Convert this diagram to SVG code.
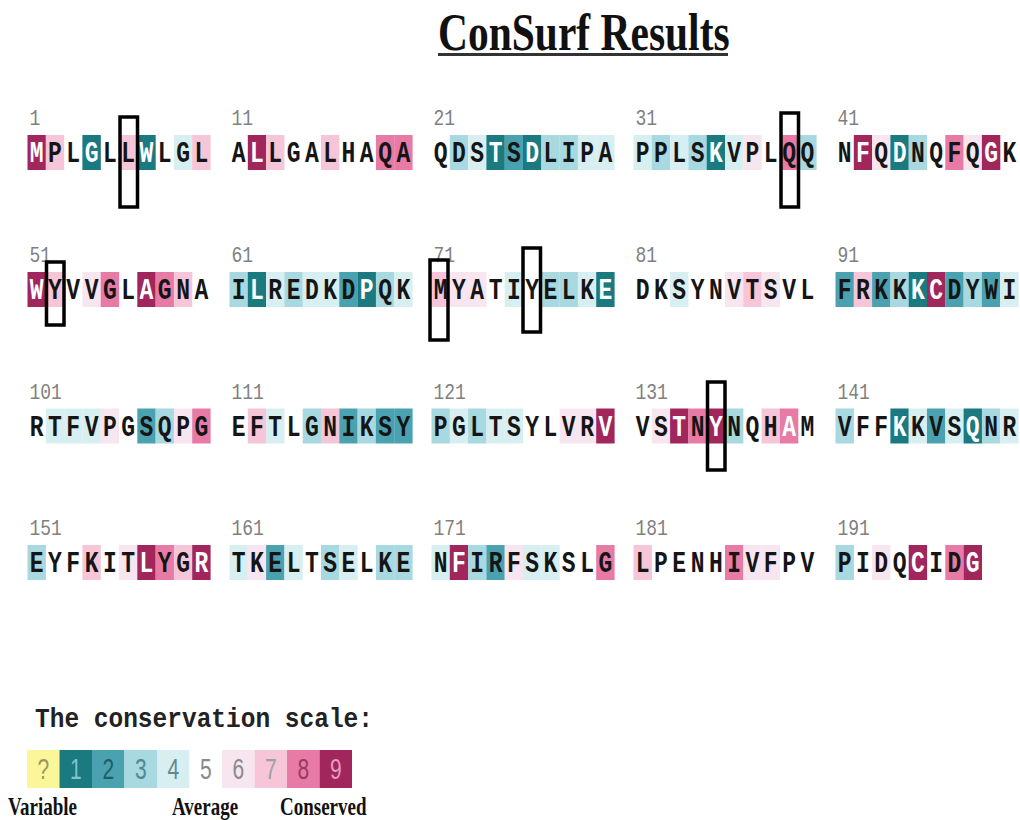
<svg xmlns="http://www.w3.org/2000/svg" width="1020" height="820" viewBox="0 0 1020 820">
<style>
.g1{fill:#1a7a80}.g2{fill:#4aa2b0}.g3{fill:#a8d8e0}.g4{fill:#d8eff2}.g6{fill:#f7e6f0}.g7{fill:#f6c5d8}.g8{fill:#e77ba6}.g9{fill:#a1265c}
.res{font-family:"Liberation Mono",monospace;font-weight:bold;font-size:23px;fill:#151515;text-anchor:middle}
.w{fill:#ffffff}
.num{font-family:"Liberation Mono",monospace;font-size:18px;fill:#808080}
.frame{fill:none;stroke:#000;stroke-width:3.5}
.title{font-family:"Liberation Serif",serif;font-weight:bold;font-size:41.5px;fill:#111}
.lt{font-family:"Liberation Mono",monospace;font-weight:bold;font-size:24.5px;fill:#222}
.dg{font-family:"Liberation Sans",sans-serif;font-size:21px;text-anchor:middle}
.lab{font-family:"Liberation Serif",serif;font-weight:bold;font-size:19px;fill:#111}
</style>
<defs>
<rect id="c" width="18.4" height="35"/>
</defs>
<rect width="1020" height="820" fill="#fff"/>
<g id="title">
<text class="title" transform="translate(438,50) scale(1,1.26)">ConSurf Results</text>
<rect x="438" y="53" width="290" height="3" fill="#333"/>
</g>

<!-- Row 1 -->
<g id="block-1" transform="translate(27.5,135)">
<use href="#c" x="0" class="g9"/><use href="#c" x="18.3" class="g7"/><use href="#c" x="54.9" class="g1"/><use href="#c" x="91.5" class="g7"/><use href="#c" x="109.8" class="g1"/><use href="#c" x="146.4" class="g4"/><use href="#c" x="164.7" class="g7"/>
<text class="num" transform="translate(2,-10) scale(1,1.2)">1</text>
<text class="res" transform="translate(0,27) scale(1,1.25)" x="9.15 27.45 45.75 64.05 82.35 100.65 118.95 137.25 155.55 173.85"><tspan class="w">M</tspan>PL<tspan class="w">G</tspan>LL<tspan class="w">W</tspan>LGL</text>
</g>
<g id="block-11" transform="translate(229.5,135)">
<use href="#c" x="18.3" class="g9"/><use href="#c" x="36.6" class="g7"/><use href="#c" x="91.5" class="g7"/><use href="#c" x="146.4" class="g8"/><use href="#c" x="164.7" class="g8"/>
<text class="num" transform="translate(2,-10) scale(1,1.2)">11</text>
<text class="res" transform="translate(0,27) scale(1,1.25)" x="9.15 27.45 45.75 64.05 82.35 100.65 118.95 137.25 155.55 173.85">A<tspan class="w">L</tspan>LGALHAQA</text>
</g>
<g id="block-21" transform="translate(431.5,135)">
<use href="#c" x="18.3" class="g3"/><use href="#c" x="36.6" class="g4"/><use href="#c" x="54.9" class="g1"/><use href="#c" x="73.2" class="g2"/><use href="#c" x="91.5" class="g1"/><use href="#c" x="109.8" class="g3"/><use href="#c" x="128.1" class="g3"/><use href="#c" x="146.4" class="g4"/><use href="#c" x="164.7" class="g4"/>
<text class="num" transform="translate(2,-10) scale(1,1.2)">21</text>
<text class="res" transform="translate(0,27) scale(1,1.25)" x="9.15 27.45 45.75 64.05 82.35 100.65 118.95 137.25 155.55 173.85">QDS<tspan class="w">T</tspan>S<tspan class="w">D</tspan>LIPA</text>
</g>
<g id="block-31" transform="translate(633.5,135)">
<use href="#c" x="0" class="g4"/><use href="#c" x="18.3" class="g3"/><use href="#c" x="36.6" class="g4"/><use href="#c" x="54.9" class="g3"/><use href="#c" x="73.2" class="g1"/><use href="#c" x="91.5" class="g4"/><use href="#c" x="109.8" class="g6"/><use href="#c" x="146.4" class="g8"/><use href="#c" x="164.7" class="g3"/>
<text class="num" transform="translate(2,-10) scale(1,1.2)">31</text>
<text class="res" transform="translate(0,27) scale(1,1.25)" x="9.15 27.45 45.75 64.05 82.35 100.65 118.95 137.25 155.55 173.85">PPLS<tspan class="w">K</tspan>VPLQQ</text>
</g>
<g id="block-41" transform="translate(835.5,135)">
<use href="#c" x="18.3" class="g9"/><use href="#c" x="36.6" class="g6"/><use href="#c" x="54.9" class="g1"/><use href="#c" x="73.2" class="g3"/><use href="#c" x="109.8" class="g8"/><use href="#c" x="128.1" class="g6"/><use href="#c" x="146.4" class="g9"/>
<text class="num" transform="translate(2,-10) scale(1,1.2)">41</text>
<text class="res" transform="translate(0,27) scale(1,1.25)" x="9.15 27.45 45.75 64.05 82.35 100.65 118.95 137.25 155.55 173.85">N<tspan class="w">F</tspan>Q<tspan class="w">D</tspan>NQFQ<tspan class="w">G</tspan>K</text>
</g>

<!-- Row 2 -->
<g id="block-51" transform="translate(27.5,272)">
<use href="#c" x="0" class="g9"/><use href="#c" x="18.3" class="g7"/><use href="#c" x="54.9" class="g6"/><use href="#c" x="73.2" class="g8"/><use href="#c" x="109.8" class="g9"/><use href="#c" x="128.1" class="g8"/><use href="#c" x="146.4" class="g7"/>
<text class="num" transform="translate(2,-10) scale(1,1.2)">51</text>
<text class="res" transform="translate(0,27) scale(1,1.25)" x="9.15 27.45 45.75 64.05 82.35 100.65 118.95 137.25 155.55 173.85"><tspan class="w">W</tspan>YVVGL<tspan class="w">A</tspan>GNA</text>
</g>
<g id="block-61" transform="translate(229.5,272)">
<use href="#c" x="0" class="g3"/><use href="#c" x="18.3" class="g1"/><use href="#c" x="36.6" class="g4"/><use href="#c" x="54.9" class="g3"/><use href="#c" x="73.2" class="g4"/><use href="#c" x="91.5" class="g4"/><use href="#c" x="109.8" class="g2"/><use href="#c" x="128.1" class="g1"/><use href="#c" x="146.4" class="g3"/><use href="#c" x="164.7" class="g4"/>
<text class="num" transform="translate(2,-10) scale(1,1.2)">61</text>
<text class="res" transform="translate(0,27) scale(1,1.25)" x="9.15 27.45 45.75 64.05 82.35 100.65 118.95 137.25 155.55 173.85">I<tspan class="w">L</tspan>REDKD<tspan class="w">P</tspan>QK</text>
</g>
<g id="block-71" transform="translate(431.5,272)">
<use href="#c" x="0" class="g7"/><use href="#c" x="18.3" class="g6"/><use href="#c" x="36.6" class="g6"/><use href="#c" x="73.2" class="g4"/><use href="#c" x="109.8" class="g3"/><use href="#c" x="128.1" class="g3"/><use href="#c" x="146.4" class="g4"/><use href="#c" x="164.7" class="g1"/>
<text class="num" transform="translate(2,-10) scale(1,1.2)">71</text>
<text class="res" transform="translate(0,27) scale(1,1.25)" x="9.15 27.45 45.75 64.05 82.35 100.65 118.95 137.25 155.55 173.85">MYATIYELK<tspan class="w">E</tspan></text>
</g>
<g id="block-81" transform="translate(633.5,272)">
<use href="#c" x="36.6" class="g4"/><use href="#c" x="91.5" class="g6"/><use href="#c" x="109.8" class="g7"/><use href="#c" x="128.1" class="g6"/>
<text class="num" transform="translate(2,-10) scale(1,1.2)">81</text>
<text class="res" transform="translate(0,27) scale(1,1.25)" x="9.15 27.45 45.75 64.05 82.35 100.65 118.95 137.25 155.55 173.85">DKSYNVTSVL</text>
</g>
<g id="block-91" transform="translate(835.5,272)">
<use href="#c" x="0" class="g2"/><use href="#c" x="18.3" class="g7"/><use href="#c" x="36.6" class="g2"/><use href="#c" x="54.9" class="g3"/><use href="#c" x="73.2" class="g1"/><use href="#c" x="91.5" class="g9"/><use href="#c" x="109.8" class="g2"/><use href="#c" x="128.1" class="g3"/><use href="#c" x="146.4" class="g2"/><use href="#c" x="164.7" class="g4"/>
<text class="num" transform="translate(2,-10) scale(1,1.2)">91</text>
<text class="res" transform="translate(0,27) scale(1,1.25)" x="9.15 27.45 45.75 64.05 82.35 100.65 118.95 137.25 155.55 173.85">FRKK<tspan class="w">K</tspan><tspan class="w">C</tspan>DYWI</text>
</g>

<!-- Row 3 -->
<g id="block-101" transform="translate(27.5,408.5)">
<use href="#c" x="18.3" class="g4"/><use href="#c" x="36.6" class="g4"/><use href="#c" x="54.9" class="g4"/><use href="#c" x="73.2" class="g6"/><use href="#c" x="109.8" class="g2"/><use href="#c" x="128.1" class="g3"/><use href="#c" x="146.4" class="g6"/><use href="#c" x="164.7" class="g8"/>
<text class="num" transform="translate(2,-10) scale(1,1.2)">101</text>
<text class="res" transform="translate(0,27) scale(1,1.25)" x="9.15 27.45 45.75 64.05 82.35 100.65 118.95 137.25 155.55 173.85">RTFVPGSQPG</text>
</g>
<g id="block-111" transform="translate(229.5,408.5)">
<use href="#c" x="18.3" class="g7"/><use href="#c" x="36.6" class="g4"/><use href="#c" x="73.2" class="g3"/><use href="#c" x="91.5" class="g7"/><use href="#c" x="109.8" class="g2"/><use href="#c" x="128.1" class="g3"/><use href="#c" x="146.4" class="g2"/><use href="#c" x="164.7" class="g2"/>
<text class="num" transform="translate(2,-10) scale(1,1.2)">111</text>
<text class="res" transform="translate(0,27) scale(1,1.25)" x="9.15 27.45 45.75 64.05 82.35 100.65 118.95 137.25 155.55 173.85">EFTLGNIKSY</text>
</g>
<g id="block-121" transform="translate(431.5,408.5)">
<use href="#c" x="0" class="g3"/><use href="#c" x="18.3" class="g4"/><use href="#c" x="36.6" class="g3"/><use href="#c" x="54.9" class="g4"/><use href="#c" x="73.2" class="g4"/><use href="#c" x="128.1" class="g6"/><use href="#c" x="146.4" class="g6"/><use href="#c" x="164.7" class="g9"/>
<text class="num" transform="translate(2,-10) scale(1,1.2)">121</text>
<text class="res" transform="translate(0,27) scale(1,1.25)" x="9.15 27.45 45.75 64.05 82.35 100.65 118.95 137.25 155.55 173.85">PGLTSYLVR<tspan class="w">V</tspan></text>
</g>
<g id="block-131" transform="translate(633.5,408.5)">
<use href="#c" x="18.3" class="g6"/><use href="#c" x="36.6" class="g9"/><use href="#c" x="54.9" class="g8"/><use href="#c" x="73.2" class="g9"/><use href="#c" x="91.5" class="g3"/><use href="#c" x="128.1" class="g7"/><use href="#c" x="146.4" class="g8"/>
<text class="num" transform="translate(2,-10) scale(1,1.2)">131</text>
<text class="res" transform="translate(0,27) scale(1,1.25)" x="9.15 27.45 45.75 64.05 82.35 100.65 118.95 137.25 155.55 173.85">VS<tspan class="w">T</tspan>N<tspan class="w">Y</tspan>NQH<tspan class="w">A</tspan>M</text>
</g>
<g id="block-141" transform="translate(835.5,408.5)">
<use href="#c" x="0" class="g3"/><use href="#c" x="54.9" class="g1"/><use href="#c" x="73.2" class="g4"/><use href="#c" x="91.5" class="g2"/><use href="#c" x="109.8" class="g4"/><use href="#c" x="128.1" class="g1"/><use href="#c" x="146.4" class="g3"/><use href="#c" x="164.7" class="g4"/>
<text class="num" transform="translate(2,-10) scale(1,1.2)">141</text>
<text class="res" transform="translate(0,27) scale(1,1.25)" x="9.15 27.45 45.75 64.05 82.35 100.65 118.95 137.25 155.55 173.85">VFF<tspan class="w">K</tspan>KVS<tspan class="w">Q</tspan>NR</text>
</g>

<!-- Row 4 -->
<g id="block-151" transform="translate(27.5,545)">
<use href="#c" x="0" class="g3"/><use href="#c" x="54.9" class="g7"/><use href="#c" x="91.5" class="g6"/><use href="#c" x="109.8" class="g9"/><use href="#c" x="128.1" class="g8"/><use href="#c" x="146.4" class="g7"/><use href="#c" x="164.7" class="g9"/>
<text class="num" transform="translate(2,-10) scale(1,1.2)">151</text>
<text class="res" transform="translate(0,27) scale(1,1.25)" x="9.15 27.45 45.75 64.05 82.35 100.65 118.95 137.25 155.55 173.85">EYFKIT<tspan class="w">L</tspan>YG<tspan class="w">R</tspan></text>
</g>
<g id="block-161" transform="translate(229.5,545)">
<use href="#c" x="0" class="g4"/><use href="#c" x="18.3" class="g6"/><use href="#c" x="36.6" class="g2"/><use href="#c" x="54.9" class="g4"/><use href="#c" x="91.5" class="g3"/><use href="#c" x="109.8" class="g4"/><use href="#c" x="146.4" class="g3"/><use href="#c" x="164.7" class="g3"/>
<text class="num" transform="translate(2,-10) scale(1,1.2)">161</text>
<text class="res" transform="translate(0,27) scale(1,1.25)" x="9.15 27.45 45.75 64.05 82.35 100.65 118.95 137.25 155.55 173.85">TKELTSELKE</text>
</g>
<g id="block-171" transform="translate(431.5,545)">
<use href="#c" x="0" class="g4"/><use href="#c" x="18.3" class="g9"/><use href="#c" x="36.6" class="g3"/><use href="#c" x="54.9" class="g2"/><use href="#c" x="73.2" class="g6"/><use href="#c" x="91.5" class="g4"/><use href="#c" x="109.8" class="g4"/><use href="#c" x="164.7" class="g8"/>
<text class="num" transform="translate(2,-10) scale(1,1.2)">171</text>
<text class="res" transform="translate(0,27) scale(1,1.25)" x="9.15 27.45 45.75 64.05 82.35 100.65 118.95 137.25 155.55 173.85">N<tspan class="w">F</tspan>IRFSKSLG</text>
</g>
<g id="block-181" transform="translate(633.5,545)">
<use href="#c" x="0" class="g7"/><use href="#c" x="91.5" class="g8"/><use href="#c" x="109.8" class="g6"/><use href="#c" x="128.1" class="g6"/>
<text class="num" transform="translate(2,-10) scale(1,1.2)">181</text>
<text class="res" transform="translate(0,27) scale(1,1.25)" x="9.15 27.45 45.75 64.05 82.35 100.65 118.95 137.25 155.55 173.85">LPENHIVFPV</text>
</g>
<g id="block-191" transform="translate(835.5,545)">
<use href="#c" x="0" class="g3"/><use href="#c" x="36.6" class="g6"/><use href="#c" x="73.2" class="g9"/><use href="#c" x="109.8" class="g8"/><use href="#c" x="128.1" class="g9"/>
<text class="num" transform="translate(2,-10) scale(1,1.2)">191</text>
<text class="res" transform="translate(0,27) scale(1,1.25)" x="9.15 27.45 45.75 64.05 82.35 100.65 118.95 137.25">PIDQ<tspan class="w">C</tspan>ID<tspan class="w">G</tspan></text>
</g>

<g id="highlights">
<rect class="frame" x="120" y="117" width="17.5" height="90"/>
<rect class="frame" x="781" y="113" width="17.5" height="94"/>
<rect class="frame" x="46.5" y="262" width="17.5" height="63"/>
<rect class="frame" x="430" y="260" width="18" height="80"/>
<rect class="frame" x="523" y="248" width="17.5" height="84"/>
<rect class="frame" x="707.5" y="382" width="17.5" height="88"/>
</g>

<g id="legend">
<text class="lt" transform="translate(35,727) scale(1,1.15)">The conservation scale:</text>
<rect x="27" y="750" width="32.5" height="38" fill="#fbf699"/>
<rect x="59.5" y="750" width="32.5" height="38" class="g1"/>
<rect x="92" y="750" width="32.5" height="38" class="g2"/>
<rect x="124.5" y="750" width="32.5" height="38" class="g3"/>
<rect x="157" y="750" width="32.5" height="38" class="g4"/>
<rect x="189.5" y="750" width="32.5" height="38" fill="#fff"/>
<rect x="222" y="750" width="32.5" height="38" class="g6"/>
<rect x="254.5" y="750" width="32.5" height="38" class="g7"/>
<rect x="287" y="750" width="32.5" height="38" class="g8"/>
<rect x="319.5" y="750" width="32.5" height="38" class="g9"/>
<g transform="translate(0,779)">
<text class="dg" transform="translate(43.25,0) scale(1,1.4)" fill="#9a9a5a">?</text>
<text class="dg" transform="translate(75.75,0) scale(1,1.4)" fill="#7cc6cc">1</text>
<text class="dg" transform="translate(108.25,0) scale(1,1.4)" fill="#1c5f6a">2</text>
<text class="dg" transform="translate(140.75,0) scale(1,1.4)" fill="#4f8994">3</text>
<text class="dg" transform="translate(173.25,0) scale(1,1.4)" fill="#5f8a90">4</text>
<text class="dg" transform="translate(205.75,0) scale(1,1.4)" fill="#8a8a8a">5</text>
<text class="dg" transform="translate(238.25,0) scale(1,1.4)" fill="#8a8a8a">6</text>
<text class="dg" transform="translate(270.75,0) scale(1,1.4)" fill="#a0a0a0">7</text>
<text class="dg" transform="translate(303.25,0) scale(1,1.4)" fill="#9a3a66">8</text>
<text class="dg" transform="translate(335.75,0) scale(1,1.4)" fill="#e59bbd">9</text>
</g>
<text class="lab" transform="translate(8,815) scale(1,1.3)">Variable</text>
<text class="lab" transform="translate(172,815) scale(1,1.3)">Average</text>
<text class="lab" transform="translate(280,815) scale(1,1.3)">Conserved</text>
</g>
</svg>
